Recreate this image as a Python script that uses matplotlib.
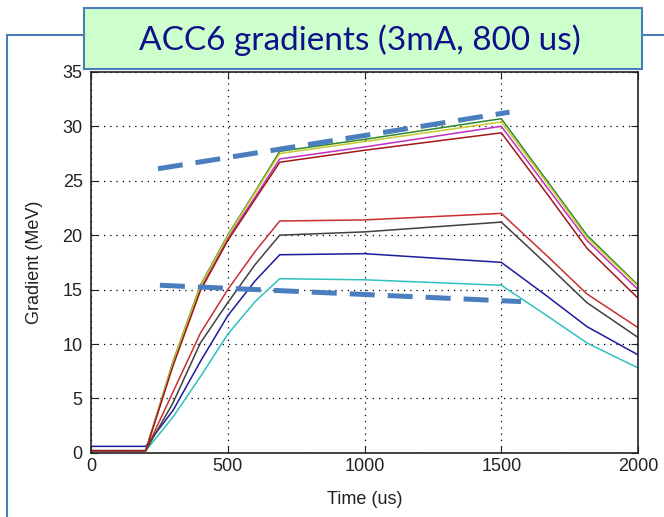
import numpy as np
import matplotlib.pyplot as plt
from matplotlib.patches import Rectangle
from matplotlib.lines import Line2D

plt.rcParams['font.family'] = ['Liberation Sans', 'DejaVu Sans']

# time grid (us)
t = [0, 200, 300, 400, 500, 600, 690, 1000, 1500, 1667, 1813, 2000]

# gradients (MeV)
green = [0.2, 0.2, 8.4, 15.4, 20.0, 24.0, 27.7, 28.8, 30.7, 25.0, 20.0, 15.4]
yellow = [0.2, 0.2, 8.3, 15.3, 19.9, 23.9, 27.5, 28.6, 30.4, 24.8, 19.8, 15.3]
magenta = [0.2, 0.2, 8.2, 15.1, 19.7, 23.5, 27.0, 28.1, 30.0, 24.4, 19.5, 15.0]
darkred = [0.2, 0.2, 8.0, 14.9, 19.5, 23.3, 26.7, 27.8, 29.4, 23.8, 18.8, 14.2]
red = [0.2, 0.2, 5.6, 11.0, 15.0, 18.5, 21.3, 21.4, 22.0, 18.1, 14.6, 11.5]
gray = [0.2, 0.2, 4.6, 10.1, 13.8, 17.3, 20.0, 20.3, 21.2, 17.3, 13.8, 10.6]
blue = [0.6, 0.6, 3.9, 8.4, 12.6, 15.8, 18.2, 18.3, 17.5, 14.4, 11.6, 9.0]
cyan = [0.2, 0.2, 3.3, 7.0, 10.9, 13.9, 16.0, 15.9, 15.4, 12.6, 10.1, 7.8]

series = [(blue, '#1c1c9c'), (green, '#2a8a2a'), (red, '#c83030'),
          (cyan, '#30c0c0'), (magenta, '#c030c0'), (yellow, '#c8c830'),
          (gray, '#404040'), (darkred, '#a01818')]

# hand-drawn trend lines
trend_hi_x = [245, 1530]
trend_hi_y = [26.1, 31.3]
trend_lo_x = [252, 1572]
trend_lo_y = [15.4, 13.9]

fig = plt.figure(figsize=(6.64, 5.17), dpi=100)
ax = fig.add_axes([0.137, 0.124, 0.824, 0.737])

for vals, c in series:
    ax.plot(t, vals, color=c, lw=1.1)

dash_c = '#4a7ebf'
ax.plot(trend_hi_x, trend_hi_y, color=dash_c, lw=3.6, dashes=(5, 2.6), solid_capstyle='butt')
ax.plot(trend_lo_x, trend_lo_y, color=dash_c, lw=3.6, dashes=(5, 2.6), solid_capstyle='butt')

ax.set_xlim(0, 2000)
ax.set_ylim(0, 35)
ax.set_xticks([0, 500, 1000, 1500, 2000])
ax.set_yticks([0, 5, 10, 15, 20, 25, 30, 35])
ax.grid(True, color='black', linestyle=(0, (1, 4)), lw=0.9)
ax.tick_params(direction='in', top=True, right=True, length=5, labelsize=13, colors='#222222')
ax.tick_params(axis='y', pad=6)
for s in ax.spines.values():
    s.set_linewidth(1.2)
    s.set_color('#222222')
ax.set_xlabel('Time (us)', fontsize=13, color='#222222', labelpad=12)
ax.set_ylabel('Gradient (MeV)', fontsize=13, color='#222222', labelpad=14)

# slide frame and title box
frame_c = '#4a7ebb'
fig.add_artist(Line2D([0.011, 0.011], [0.0, 0.932], color=frame_c, lw=1.5, transform=fig.transFigure))
fig.add_artist(Line2D([0.011, 1.0], [0.932, 0.932], color=frame_c, lw=1.5, transform=fig.transFigure))
fig.add_artist(Rectangle((0.126, 0.866), 0.841, 0.119, transform=fig.transFigure,
                         facecolor='#ccffcc', edgecolor=frame_c, lw=1.5, zorder=5))
fig.text(0.542, 0.922, 'ACC6 gradients (3mA, 800 us)', ha='center', va='center',
         fontsize=24, color='#10108a', family='Lato', zorder=6)

fig.savefig('out.png', dpi=100)
